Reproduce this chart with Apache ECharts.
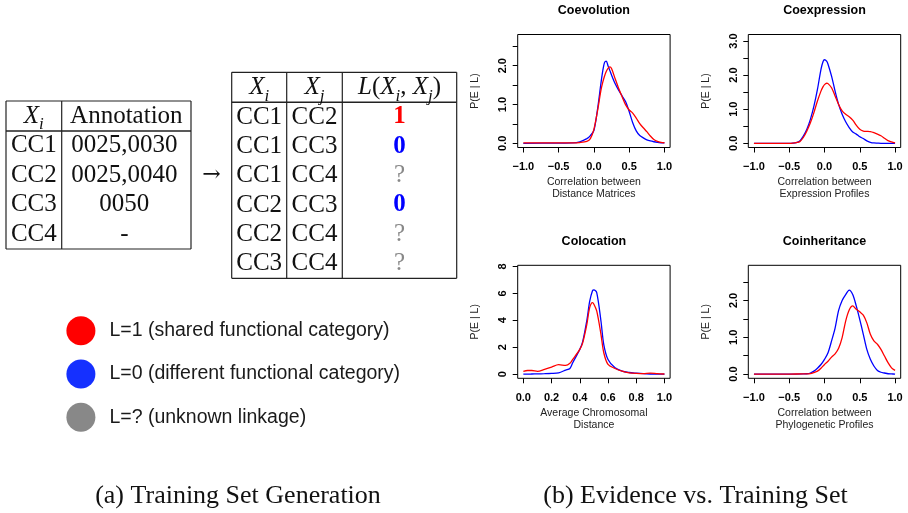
<!DOCTYPE html>
<html>
<head>
<meta charset="utf-8">
<script src="https://cdn.jsdelivr.net/npm/echarts@6/dist/echarts.min.js"></script>
<style>
html, body { margin: 0; padding: 0; background: #fff; }
#chart { width: 908px; height: 513px; }
</style>
</head>
<body>
<div id="chart"></div>
<script>
// ---- data: (a) training set tables ----
var genes = ['CC1', 'CC2', 'CC3', 'CC4'];
var annotations = ['0025,0030', '0025,0040', '0050', '-'];
var pairXi = ['CC1', 'CC1', 'CC1', 'CC2', 'CC2', 'CC3'];
var pairXj = ['CC2', 'CC3', 'CC4', 'CC3', 'CC4', 'CC4'];
var linkage = ['1', '0', '?', '0', '?', '?'];
var legendNames = ['L=1 (shared functional category)', 'L=0 (different functional category)', 'L=? (unknown linkage)'];

// ---- data: (b) densities P(E | L) ----
var panelTitles = ['Coevolution', 'Coexpression', 'Colocation', 'Coinheritance'];
var xNames = ['Correlation between\nDistance Matrices', 'Correlation between\nExpression Profiles',
    'Average Chromosomal\nDistance', 'Correlation between\nPhylogenetic Profiles'];

var coevoX = [-1.0, -0.5, -0.3, -0.2, -0.1, -0.05, 0.0, 0.05, 0.1, 0.125, 0.15, 0.175, 0.2, 0.225, 0.25, 0.3, 0.35, 0.4, 0.45, 0.5, 0.55, 0.6, 0.65, 0.7, 0.75, 0.8, 0.85, 0.9, 0.95, 1.0];
var coevoL0 = [0.0, 0.005, 0.01, 0.04, 0.12, 0.2, 0.33, 0.86, 1.55, 1.86, 2.08, 2.12, 2.0, 1.88, 1.76, 1.54, 1.37, 1.22, 1.07, 0.82, 0.53, 0.32, 0.2, 0.14, 0.09, 0.06, 0.04, 0.025, 0.015, 0.01];
var coevoL1 = [0.01, 0.01, 0.01, 0.02, 0.05, 0.12, 0.36, 0.82, 1.37, 1.57, 1.73, 1.85, 1.93, 1.97, 1.93, 1.67, 1.42, 1.2, 0.99, 0.86, 0.78, 0.65, 0.51, 0.4, 0.3, 0.19, 0.1, 0.05, 0.025, 0.015];

var coexpX = [-1.0, -0.5, -0.45, -0.4, -0.35, -0.3, -0.25, -0.2, -0.15, -0.1, -0.05, -0.02, 0.0, 0.03, 0.05, 0.1, 0.15, 0.2, 0.25, 0.3, 0.35, 0.4, 0.45, 0.5, 0.55, 0.6, 0.65, 0.7, 0.75, 0.8, 0.85, 0.9, 0.95, 1.0];
var coexpL0 = [0, 0, 0.005, 0.02, 0.07, 0.21, 0.41, 0.7, 1.09, 1.58, 2.17, 2.4, 2.45, 2.41, 2.32, 1.97, 1.53, 1.14, 0.85, 0.63, 0.46, 0.33, 0.27, 0.19, 0.14, 0.07, 0.03, 0.01, 0.005, 0, 0, 0, 0, 0];
var coexpL1 = [0, 0, 0.005, 0.02, 0.05, 0.17, 0.36, 0.6, 0.9, 1.24, 1.53, 1.66, 1.72, 1.76, 1.75, 1.63, 1.39, 1.14, 0.95, 0.85, 0.78, 0.68, 0.53, 0.41, 0.36, 0.35, 0.34, 0.31, 0.27, 0.22, 0.15, 0.08, 0.04, 0.01];

var colocX = [0.0, 0.03, 0.06, 0.1, 0.15, 0.2, 0.25, 0.3, 0.33, 0.35, 0.4, 0.42, 0.45, 0.47, 0.49, 0.5, 0.52, 0.55, 0.57, 0.6, 0.65, 0.7, 0.75, 0.8, 0.85, 0.9, 0.95, 1.0];
var colocL0 = [0.0, 0.0, 0.01, 0.02, 0.03, 0.05, 0.1, 0.3, 0.42, 0.85, 1.84, 2.4, 4.0, 5.4, 6.2, 6.26, 6.06, 3.95, 2.2, 1.09, 0.47, 0.22, 0.12, 0.07, 0.03, 0.01, 0.005, 0.0];
var colocL1 = [0.2, 0.27, 0.27, 0.2, 0.35, 0.52, 0.7, 0.65, 0.8, 1.09, 1.84, 2.3, 3.7, 4.94, 5.32, 5.2, 4.7, 2.96, 1.59, 0.72, 0.42, 0.22, 0.1, 0.05, 0.03, 0.07, 0.03, 0.01];

var coinhX = [-1.0, -0.5, -0.3, -0.25, -0.2, -0.15, -0.1, -0.05, 0.0, 0.05, 0.1, 0.15, 0.2, 0.25, 0.3, 0.35, 0.4, 0.45, 0.5, 0.55, 0.6, 0.65, 0.7, 0.75, 0.8, 0.85, 0.9, 0.95, 1.0];
var coinhL0 = [0, 0, 0.005, 0.01, 0.03, 0.08, 0.16, 0.26, 0.4, 0.58, 0.9, 1.25, 1.73, 2.0, 2.16, 2.28, 2.16, 1.85, 1.48, 1.08, 0.67, 0.4, 0.22, 0.1, 0.05, 0.03, 0.01, 0.005, 0];
var coinhL1 = [0, 0, 0.005, 0.005, 0.01, 0.04, 0.08, 0.16, 0.26, 0.35, 0.46, 0.55, 0.7, 0.99, 1.44, 1.74, 1.85, 1.76, 1.69, 1.6, 1.39, 1.08, 0.9, 0.81, 0.67, 0.49, 0.31, 0.17, 0.1];

var corrTicks = [-1, -0.5, 0, 0.5, 1];
var distTicks = [0, 0.2, 0.4, 0.6, 0.8, 1];
var yTicks25 = [0, 0.5, 1, 1.5, 2, 2.5];
var yTicks30 = [0, 0.5, 1, 1.5, 2, 2.5, 3];
var yTicks8 = [0, 2, 4, 6, 8];
var yLabels2 = [0, 1, 2];
var yLabels3 = [0, 1, 2, 3];

// ---- panel setup ----
var panels = [
    {x: coevoX, l0: coevoL0, l1: coevoL1, xr: [-1.08, 1.08], yr: [-0.108, 2.805], xt: corrTicks, yt: yTicks25, yl: yLabels2, dec: 1},
    {x: coexpX, l0: coexpL0, l1: coexpL1, xr: [-1.08, 1.08], yr: [-0.123, 3.19], xt: corrTicks, yt: yTicks30, yl: yLabels3, dec: 1},
    {x: colocX, l0: colocL0, l1: colocL1, xr: [-0.04, 1.04], yr: [-0.311, 8.09], xt: distTicks, yt: yTicks8, yl: yTicks8, dec: 0},
    {x: coinhX, l0: coinhL0, l1: coinhL1, xr: [-1.08, 1.08], yr: [-0.114, 2.953], xt: corrTicks, yt: yTicks25, yl: yLabels2, dec: 1}
];
var boxLeft = [517.7, 748.3, 517.7, 748.3];
var boxTop = [34.5, 34.5, 265.3, 265.3];
var boxW = 152.4, boxH = 113;

function zip(xs, ys) {
    return xs.map(function (x, i) { return [x, ys[i]]; });
}
function fmtX(v) {
    return (v < 0 ? '\u2212' : '') + Math.abs(v).toFixed(1);
}

var sans = 'Liberation Sans';
var serif = 'Liberation Serif';
var grids = [], xAxes = [], yAxes = [], series = [], titles = [];

panels.forEach(function (p, i) {
    grids.push({
        left: boxLeft[i], top: boxTop[i], width: boxW, height: boxH,
        show: true, borderColor: '#000', borderWidth: 1, backgroundColor: 'transparent'
    });
    xAxes.push({
        type: 'value', gridIndex: i, min: p.xr[0], max: p.xr[1],
        name: xNames[i], nameLocation: 'middle', nameGap: 28.5,
        nameTextStyle: {fontFamily: sans, fontSize: 10.5, lineHeight: 12, color: '#222'},
        axisLine: {show: false, onZero: false},
        splitLine: {show: false},
        axisTick: {show: true, customValues: p.xt, length: 5, lineStyle: {color: '#000'}},
        axisLabel: {
            customValues: p.xt, margin: 14, color: '#000', fontFamily: sans,
            fontSize: 11, fontWeight: 'bold',
            formatter: function (v) { return fmtX(v); }
        }
    });
    yAxes.push({
        type: 'value', gridIndex: i, min: p.yr[0], max: p.yr[1],
        name: 'P(E | L)', nameLocation: 'middle', nameGap: 37, nameRotate: 90,
        nameTextStyle: {fontFamily: sans, fontSize: 10.5, color: '#222'},
        axisLine: {show: false, onZero: false},
        splitLine: {show: false},
        axisTick: {show: true, customValues: p.yt, length: 5, lineStyle: {color: '#000'}},
        axisLabel: {
            customValues: p.yl, margin: 9, rotate: 90, color: '#000', fontFamily: sans,
            fontSize: 11, fontWeight: 'bold',
            formatter: function (v) { return v.toFixed(p.dec); }
        }
    });
    series.push({
        name: legendNames[1], type: 'line', xAxisIndex: i, yAxisIndex: i,
        data: zip(p.x, p.l0), showSymbol: false, smooth: 0.3, color: '#0000ff',
        lineStyle: {width: 1.3, color: '#0000ff'}
    });
    series.push({
        name: legendNames[0], type: 'line', xAxisIndex: i, yAxisIndex: i,
        data: zip(p.x, p.l1), showSymbol: false, smooth: 0.3, color: '#ff0000',
        lineStyle: {width: 1.3, color: '#ff0000'}
    });
    titles.push({
        text: panelTitles[i], left: boxLeft[i] + boxW / 2, top: boxTop[i] - 30,
        textAlign: 'center', padding: 0,
        textStyle: {fontFamily: sans, fontSize: 12.5, fontWeight: 'bold', color: '#000'}
    });
});
// legend-only entry for the unknown linkage class
series.push({name: legendNames[2], type: 'line', xAxisIndex: 0, yAxisIndex: 0, data: [], color: '#888888'});

// ---- graphic: tables, arrow, captions ----
var g = [];
function line(x1, y1, x2, y2, w) {
    g.push({type: 'line', silent: true, shape: {x1: x1, y1: y1, x2: x2, y2: y2},
        style: {stroke: '#222', lineWidth: w || 1.2}});
}
function txt(x, y, s, st) {
    var style = {text: s, x: x, y: y, fill: '#111', fontFamily: serif, fontSize: 25,
        align: 'center', verticalAlign: 'middle'};
    for (var k in st) style[k] = st[k];
    g.push({type: 'text', silent: true, style: style});
}
var mathRich = {
    m: {fontFamily: serif, fontStyle: 'italic', fontSize: 25, lineHeight: 34, fill: '#111'},
    r: {fontFamily: serif, fontSize: 25, lineHeight: 34, fill: '#111'},
    s: {fontFamily: serif, fontStyle: 'italic', fontSize: 17, verticalAlign: 'bottom', fill: '#111'}
};

// table 1
var t1x = [6, 61.7, 191], t1y = 101, t1h = 30, rowH = 29.5;
var t1b = t1y + t1h + rowH * genes.length;
line(t1x[0], t1y, t1x[2], t1y); line(t1x[0], t1b, t1x[2], t1b);
line(t1x[0], t1y + t1h, t1x[2], t1y + t1h, 1.5);
t1x.forEach(function (x) { line(x, t1y, x, t1b); });
txt((t1x[0] + t1x[1]) / 2, t1y + 15.5, '{m|X}{s|i}', {rich: mathRich});
txt((t1x[1] + t1x[2]) / 2, t1y + 15.5, 'Annotation');
genes.forEach(function (gname, i) {
    var y = t1y + t1h + rowH * (i + 0.5);
    txt((t1x[0] + t1x[1]) / 2, y, gname);
    txt((t1x[1] + t1x[2]) / 2 - 2, y, annotations[i]);
});

// arrow
txt(211.5, 175, '\u2192', {fontFamily: 'DejaVu Serif', fontSize: 22});

// table 2
var t2x = [231.7, 286.7, 342.3, 456.7], t2y = 72.3, rowH2 = 29.33;
var t2b = t2y + 30 + rowH2 * pairXi.length;
line(t2x[0], t2y, t2x[3], t2y); line(t2x[0], t2b, t2x[3], t2b);
line(t2x[0], t2y + 30, t2x[3], t2y + 30, 1.5);
t2x.forEach(function (x) { line(x, t2y, x, t2b); });
txt((t2x[0] + t2x[1]) / 2, t2y + 15.5, '{m|X}{s|i}', {rich: mathRich});
txt((t2x[1] + t2x[2]) / 2, t2y + 15.5, '{m|X}{s|j}', {rich: mathRich});
txt((t2x[2] + t2x[3]) / 2, t2y + 15.5, '{m|L}{r|(}{m|X}{s|i}{r|, }{m|X}{s|j}{r|)}', {rich: mathRich});
pairXi.forEach(function (a, i) {
    var y = t2y + 30 + rowH2 * (i + 0.5);
    txt((t2x[0] + t2x[1]) / 2, y, a);
    txt((t2x[1] + t2x[2]) / 2, y, pairXj[i]);
    var c = linkage[i] === '1' ? '#ff0000' : (linkage[i] === '0' ? '#0000ff' : '#888888');
    txt((t2x[2] + t2x[3]) / 2, y, linkage[i],
        {fill: c, fontWeight: linkage[i] === '?' ? 'normal' : 'bold'});
});

// captions
txt(238, 496, '(a) Training Set Generation', {fontSize: 26});
txt(695.5, 496, '(b) Evidence vs. Training Set', {fontSize: 26});

var chart = echarts.init(document.getElementById('chart'));
chart.setOption({
    backgroundColor: '#fff',
    animation: false,
    title: titles,
    legend: {
        orient: 'vertical', left: 66.4, top: 316.2, itemWidth: 29, itemHeight: 29, itemGap: 14.3,
        icon: 'circle', selectedMode: false, padding: 0,
        data: [
            {name: legendNames[0], itemStyle: {color: '#ff0000'}},
            {name: legendNames[1], itemStyle: {color: '#1530ff'}},
            {name: legendNames[2], itemStyle: {color: '#888888'}}
        ],
        textStyle: {fontFamily: sans, fontSize: 19.5, color: '#1a1a1a', padding: [0, 0, 0, 9]}
    },
    grid: grids,
    xAxis: xAxes,
    yAxis: yAxes,
    series: series,
    graphic: g
});
</script>
</body>
</html>
